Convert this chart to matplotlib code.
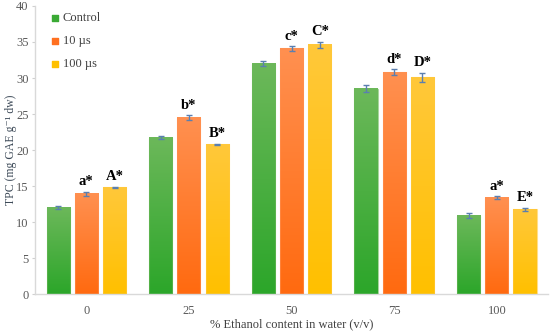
import matplotlib
matplotlib.use("Agg")
import matplotlib.pyplot as plt
import matplotlib.colors as mcolors
import numpy as np

groups = ["0", "25", "50", "75", "100"]
series = ["Control", "10 µs", "100 µs"]
control = [12.0, 21.7, 32.0, 28.5, 10.9]
us10 = [13.9, 24.5, 34.1, 30.8, 13.4]
us100 = [14.8, 20.8, 34.6, 30.1, 11.8]
control_err = [0.2, 0.2, 0.3, 0.5, 0.3]
us10_err = [0.3, 0.3, 0.3, 0.4, 0.2]
us100_err = [0.1, 0.1, 0.4, 0.6, 0.2]
us10_labels = ["a*", "b*", "c*", "d*", "a*"]
us100_labels = ["A*", "B*", "C*", "D*", "E*"]

# (top colour, bottom colour) for the gradient fill
grads = [("#6cb85a", "#2ca62a"), ("#ff9050", "#ff6a10"), ("#ffc83a", "#ffc000")]
legend_cols = ["#3aaa35", "#ff7020", "#ffc000"]

serif = ["Liberation Serif", "DejaVu Serif"]
plt.rcParams["font.family"] = serif

fig = plt.figure(figsize=(5.5, 3.33), dpi=100)
ax = fig.add_axes([0.0636, 0.117, 0.933, 0.865])

x = np.arange(len(groups))
w = 0.225
off = 0.275
vals = [control, us10, us100]
errs = [control_err, us10_err, us100_err]

for i, (v, e) in enumerate(zip(vals, errs)):
    pos = x + (i - 1) * off
    bars = ax.bar(pos, v, w, color="none", edgecolor="none", zorder=2)
    cmap = mcolors.LinearSegmentedColormap.from_list("g", [grads[i][1], grads[i][0]])
    grad = np.linspace(0, 1, 100).reshape(-1, 1)
    for b in bars:
        x0, y0 = b.get_x(), b.get_y()
        ax.imshow(grad, cmap=cmap, origin="lower", aspect="auto",
                  extent=[x0, x0 + b.get_width(), y0, y0 + b.get_height()], zorder=2)
        # faint light edge
        ax.add_patch(plt.Rectangle((x0, y0), b.get_width(), b.get_height(),
                                   fill=False, edgecolor=grads[i][0], lw=0.8, alpha=0.6, zorder=3))
    ax.errorbar(pos, v, yerr=e, fmt="none", ecolor="#5a7fb0", elinewidth=1,
                capsize=2.5, capthick=1, zorder=4)

for lbl_list, v, e, i in [(us10_labels, us10, us10_err, 1), (us100_labels, us100, us100_err, 2)]:
    for k, (lbl, val, er) in enumerate(zip(lbl_list, v, e)):
        ax.text(x[k] + (i - 1) * off, val + er + 0.5, lbl, ha="center", va="bottom",
                fontsize=10.5, fontweight="bold", color="black")

for i, name in enumerate(series):
    ax.scatter([], [], marker="s", s=22, color=legend_cols[i], label=name)
leg = ax.legend(loc="upper left", bbox_to_anchor=(0.01, 1.01), frameon=False,
                fontsize=9, handletextpad=0.1, labelspacing=0.9, handlelength=1.0,
                borderaxespad=0.3)
for t in leg.get_texts():
    t.set_color("#404040")

ax.set_xlim(-0.5, 4.5)
ax.set_ylim(0, 40)
ax.set_xticks(x)
ax.set_xticklabels(groups)
ax.set_yticks(np.arange(0, 41, 5))
ax.tick_params(axis="x", length=0, pad=8, labelsize=9, colors="#595959")
ax.tick_params(axis="y", length=2.5, width=0.8, color="#d0d0d0", labelsize=9,
               colors="#595959", pad=2)

for s in ["top", "right"]:
    ax.spines[s].set_visible(False)
for s in ["left", "bottom"]:
    ax.spines[s].set_color("#d9d9d9")
    ax.spines[s].set_linewidth(1.0)

ax.set_xlabel("% Ethanol content in water (v/v)", fontsize=9, color="#404040")
ax.set_ylabel("TPC (mg GAE g⁻¹ dw)", fontsize=8.5, color="#3d4a58")
ax.xaxis.set_label_coords(0.5, -0.085)
ax.yaxis.set_label_coords(-0.035, 0.5)

fig.savefig("out.png", dpi=100)
